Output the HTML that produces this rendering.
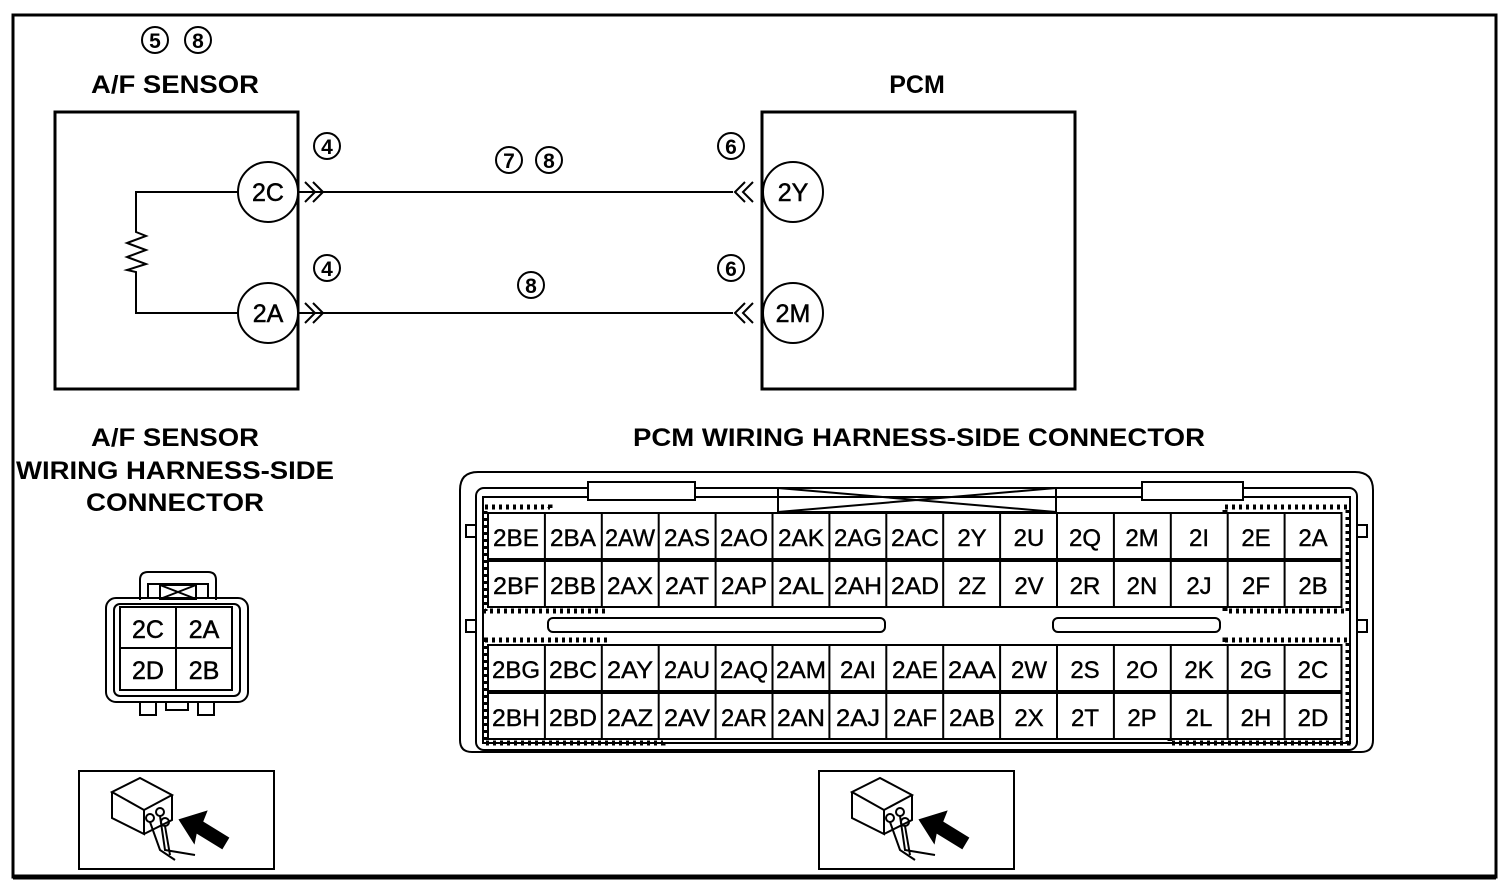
<!DOCTYPE html>
<html><head><style>
html,body{margin:0;padding:0;background:#fff;}
svg{display:block;}
text{font-family:"Liberation Sans",sans-serif;fill:#000;}
</style></head><body>
<svg width="1510" height="886" viewBox="0 0 1510 886" xmlns="http://www.w3.org/2000/svg">
<rect x="13" y="15" width="1483" height="862" fill="none" stroke="#000" stroke-width="3"/>
<line x1="13" y1="877" x2="1496" y2="877" stroke="#000" stroke-width="5"/>

<g fill="none" stroke="#000" stroke-width="2">
<circle cx="155" cy="40" r="13"/><circle cx="198" cy="40" r="13"/>
<circle cx="327" cy="146" r="13"/><circle cx="327" cy="268" r="13"/>
<circle cx="509" cy="160" r="13"/><circle cx="549" cy="160" r="13"/>
<circle cx="531" cy="285" r="13"/>
<circle cx="731" cy="146" r="13"/><circle cx="731" cy="268" r="13"/>
</g>
<g font-size="21" font-weight="bold" text-anchor="middle">
<text x="155" y="48">5</text><text x="198" y="48">8</text>
<text x="327" y="154">4</text><text x="327" y="276">4</text>
<text x="509" y="168">7</text><text x="549" y="168">8</text>
<text x="531" y="293">8</text>
<text x="731" y="154">6</text><text x="731" y="276">6</text>
</g>
<g font-size="25" font-weight="bold" text-anchor="middle">
<text x="175" y="93" textLength="168" lengthAdjust="spacingAndGlyphs">A/F SENSOR</text>
<text x="917" y="93">PCM</text>
<text x="175" y="446" textLength="168" lengthAdjust="spacingAndGlyphs">A/F SENSOR</text>
<text x="175" y="479" textLength="318" lengthAdjust="spacingAndGlyphs">WIRING HARNESS-SIDE</text>
<text x="175" y="511" textLength="178" lengthAdjust="spacingAndGlyphs">CONNECTOR</text>
<text x="919" y="446" textLength="572" lengthAdjust="spacingAndGlyphs">PCM WIRING HARNESS-SIDE CONNECTOR</text>
</g>

<rect x="55" y="112" width="243" height="277" fill="none" stroke="#000" stroke-width="3"/>
<rect x="762" y="112" width="313" height="277" fill="none" stroke="#000" stroke-width="3"/>
<g fill="none" stroke="#000" stroke-width="2">
<polyline points="238,192 136,192 136,232 146,236 127,243 146,250 127,257 146,264 127,270 136,272 136,313 238,313"/>
<line x1="298" y1="192" x2="733" y2="192"/>
<line x1="298" y1="313" x2="733" y2="313"/>
<polyline points="305,182 315,192 305,202"/><polyline points="313,182 323,192 313,202"/>
<polyline points="305,303 315,313 305,323"/><polyline points="313,303 323,313 313,323"/>
<polyline points="745,182 735,192 745,202"/><polyline points="753,182 743,192 753,202"/>
<polyline points="745,303 735,313 745,323"/><polyline points="753,303 743,313 753,323"/>
</g>
<g fill="#fff" stroke="#000" stroke-width="2">
<circle cx="268" cy="192" r="30"/><circle cx="268" cy="313" r="30"/>
<circle cx="793" cy="192" r="30"/><circle cx="793" cy="313" r="30"/>
</g>
<g font-size="25" text-anchor="middle" stroke="#000" stroke-width="0.5">
<text x="268" y="201">2C</text><text x="268" y="322">2A</text>
<text x="793" y="201">2Y</text><text x="793" y="322">2M</text>
</g>

<g fill="none" stroke="#000" stroke-width="2">
<path d="M140,600 L140,580 Q140,572 148,572 L208,572 Q216,572 216,580 L216,600"/>
<path d="M148,598 L148,584 L208,584 L208,598"/>
<rect x="160" y="585" width="36" height="14"/><path d="M160,585 L196,599 M196,585 L160,599"/>
<rect x="106" y="598" width="142" height="104" rx="10"/>
<rect x="114" y="604" width="126" height="92" rx="6"/>
<rect x="120" y="607" width="112" height="83"/>
<line x1="176" y1="607" x2="176" y2="690"/><line x1="120" y1="648" x2="232" y2="648"/>
<rect x="140" y="702" width="16" height="13"/><rect x="166" y="702" width="22" height="8"/><rect x="198" y="702" width="16" height="13"/>
</g>
<g font-size="25" text-anchor="middle" stroke="#000" stroke-width="0.5">
<text x="148" y="638">2C</text><text x="204" y="638">2A</text>
<text x="148" y="679">2D</text><text x="204" y="679">2B</text>
</g>

<g fill="none" stroke="#000" stroke-width="2">
<path d="M460,740 L460,490 Q460,472 478,472 L1355,472 Q1373,472 1373,490 L1373,740 Q1373,752 1361,752 L472,752 Q460,752 460,740 Z"/>
<rect x="476" y="488" width="881" height="262" rx="8"/>
<rect x="483" y="497" width="867" height="246"/>
<rect x="588" y="482" width="107" height="18" fill="#fff"/>
<rect x="1142" y="482" width="101" height="18" fill="#fff"/>
<path d="M778,488 L778,512 L1056,512 L1056,488 M778,488 L1056,512 M1056,488 L778,512"/>
<rect x="548" y="618" width="337" height="14" rx="5"/>
<rect x="1053" y="618" width="167" height="14" rx="5"/>
<rect x="466" y="525" width="10" height="12"/><rect x="466" y="620" width="10" height="12"/>
<rect x="1357" y="525" width="10" height="12"/><rect x="1357" y="620" width="10" height="12"/>
</g>
<g fill="none" stroke="#000" stroke-width="5" stroke-dasharray="3,4">
<path d="M485,507 L550,507 L550,563 L605,563 L605,611 L485,611 Z"/>
<path d="M1225,507 L1348,507 L1348,611 L1225,611 Z"/>
<path d="M485,640 L607,640 L607,690 L663,690 L663,743 L485,743 Z"/>
<path d="M1225,640 L1348,640 L1348,743 L1170,743 L1170,690 L1225,690 Z"/>
</g>
<g fill="#fff" stroke="#000" stroke-width="2">
<rect x="488" y="513" width="853.5" height="46"/><rect x="488" y="561" width="853.5" height="46"/>
<rect x="488" y="645" width="853.5" height="46"/><rect x="488" y="693" width="853.5" height="46"/>
</g>
<g stroke="#000" stroke-width="2">
<path d="M544.9,513V607M601.8,513V607M658.7,513V607M715.6,513V607M772.5,513V607M829.4,513V607M886.3,513V607M943.2,513V607M1000.1,513V607M1057,513V607M1113.9,513V607M1170.8,513V607M1227.7,513V607M1284.6,513V607"/>
<path d="M544.9,645V739M601.8,645V739M658.7,645V739M715.6,645V739M772.5,645V739M829.4,645V739M886.3,645V739M943.2,645V739M1000.1,645V739M1057,645V739M1113.9,645V739M1170.8,645V739M1227.7,645V739M1284.6,645V739"/>
</g>
<g font-size="24" text-anchor="middle" stroke="#000" stroke-width="0.4">
<g transform="translate(0,546)">
<text x="516" textLength="46" lengthAdjust="spacingAndGlyphs">2BE</text><text x="573" textLength="46" lengthAdjust="spacingAndGlyphs">2BA</text><text x="630" textLength="50" lengthAdjust="spacingAndGlyphs">2AW</text><text x="687" textLength="46" lengthAdjust="spacingAndGlyphs">2AS</text><text x="744" textLength="48" lengthAdjust="spacingAndGlyphs">2AO</text><text x="801" textLength="46" lengthAdjust="spacingAndGlyphs">2AK</text><text x="858" textLength="48" lengthAdjust="spacingAndGlyphs">2AG</text><text x="915" textLength="48" lengthAdjust="spacingAndGlyphs">2AC</text><text x="972">2Y</text><text x="1029">2U</text><text x="1085">2Q</text><text x="1142">2M</text><text x="1199">2I</text><text x="1256">2E</text><text x="1313">2A</text>
</g>
<g transform="translate(0,594)">
<text x="516" textLength="46" lengthAdjust="spacingAndGlyphs">2BF</text><text x="573" textLength="46" lengthAdjust="spacingAndGlyphs">2BB</text><text x="630" textLength="46" lengthAdjust="spacingAndGlyphs">2AX</text><text x="687" textLength="44" lengthAdjust="spacingAndGlyphs">2AT</text><text x="744" textLength="46" lengthAdjust="spacingAndGlyphs">2AP</text><text x="801" textLength="46" lengthAdjust="spacingAndGlyphs">2AL</text><text x="858" textLength="48" lengthAdjust="spacingAndGlyphs">2AH</text><text x="915" textLength="48" lengthAdjust="spacingAndGlyphs">2AD</text><text x="972">2Z</text><text x="1029">2V</text><text x="1085">2R</text><text x="1142">2N</text><text x="1199">2J</text><text x="1256">2F</text><text x="1313">2B</text>
</g>
<g transform="translate(0,678)">
<text x="516" textLength="48" lengthAdjust="spacingAndGlyphs">2BG</text><text x="573" textLength="48" lengthAdjust="spacingAndGlyphs">2BC</text><text x="630" textLength="46" lengthAdjust="spacingAndGlyphs">2AY</text><text x="687" textLength="46" lengthAdjust="spacingAndGlyphs">2AU</text><text x="744" textLength="48" lengthAdjust="spacingAndGlyphs">2AQ</text><text x="801" textLength="50" lengthAdjust="spacingAndGlyphs">2AM</text><text x="858">2AI</text><text x="915" textLength="46" lengthAdjust="spacingAndGlyphs">2AE</text><text x="972" textLength="48" lengthAdjust="spacingAndGlyphs">2AA</text><text x="1029">2W</text><text x="1085">2S</text><text x="1142">2O</text><text x="1199">2K</text><text x="1256">2G</text><text x="1313">2C</text>
</g>
<g transform="translate(0,726)">
<text x="516" textLength="48" lengthAdjust="spacingAndGlyphs">2BH</text><text x="573" textLength="48" lengthAdjust="spacingAndGlyphs">2BD</text><text x="630" textLength="46" lengthAdjust="spacingAndGlyphs">2AZ</text><text x="687" textLength="46" lengthAdjust="spacingAndGlyphs">2AV</text><text x="744" textLength="46" lengthAdjust="spacingAndGlyphs">2AR</text><text x="801" textLength="48" lengthAdjust="spacingAndGlyphs">2AN</text><text x="858" textLength="44" lengthAdjust="spacingAndGlyphs">2AJ</text><text x="915" textLength="44" lengthAdjust="spacingAndGlyphs">2AF</text><text x="972" textLength="46" lengthAdjust="spacingAndGlyphs">2AB</text><text x="1029">2X</text><text x="1085">2T</text><text x="1142">2P</text><text x="1199">2L</text><text x="1256">2H</text><text x="1313">2D</text>
</g>
</g>

<g id="ic" fill="none" stroke="#000" stroke-width="2">
<rect x="79" y="771" width="195" height="98"/>
<path d="M112,792 L140,778 L172,795 L144,810 Z" fill="#fff"/>
<path d="M112,792 L112,818 L144,834 L144,810"/>
<path d="M144,834 L172,820 L172,795"/>
<circle cx="150" cy="818" r="4"/><circle cx="160" cy="812" r="4"/><circle cx="165" cy="822" r="4"/>
<path d="M150,822 L160,850 L175,860 M160,816 L165,850 L195,855 M165,826 L170,855"/>
<path d="M180,820 L206,812 L202,822 L228,838 L222,848 L196,832 L194,842 Z" fill="#000"/>
</g>
<use href="#ic" x="740" y="0"/>
</svg>
</body></html>
